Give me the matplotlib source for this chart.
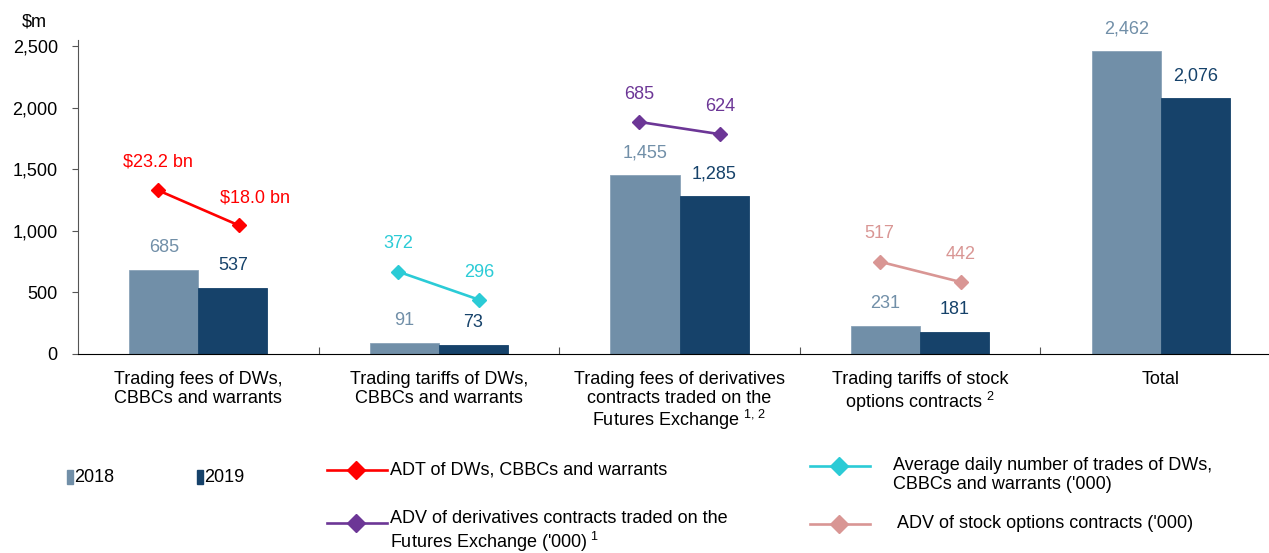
import matplotlib
matplotlib.use('Agg')
import matplotlib.pyplot as plt
from matplotlib.lines import Line2D
from matplotlib.patches import Rectangle
import numpy as np

plt.rcParams.update({
    'font.family': ['Liberation Sans', 'DejaVu Sans'],
    'font.size': 13,
    'mathtext.fontset': 'custom',
    'mathtext.rm': 'Liberation Sans',
    'mathtext.it': 'Liberation Sans',
})

# ---- data ----
categories = ['Trading fees of DWs,\nCBBCs and warrants',
              'Trading tariffs of DWs,\nCBBCs and warrants',
              'Trading fees of derivatives\ncontracts traded on the\nFutures Exchange $^{1,\\,2}$',
              'Trading tariffs of stock\noptions contracts $^{2}$',
              'Total']
fees_2018 = [685, 91, 1455, 231, 2462]
fees_2019 = [537, 73, 1285, 181, 2076]

# overlay series: group index, plotted heights ($m scale), value labels
line_names = ['ADT of DWs, CBBCs and warrants',
              "Average daily number of trades of DWs,\nCBBCs and warrants ('000)",
              "ADV of derivatives contracts traded on the\nFutures Exchange ('000)$^{\\ 1}$",
              "ADV of stock options contracts ('000)"]
line_groups = [0, 1, 2, 3]
line_heights = [[1330, 1045], [668, 440], [1885, 1785], [750, 585]]
line_labels = [['$23.2 bn', '$18.0 bn'], ['372', '296'], ['685', '624'], ['517', '442']]
line_colors = ['#FF0000', '#2BCBD6', '#6C3696', '#D99694']

c2018 = '#718FA8'
c2019 = '#16426A'

W, H = 1269, 553
fig = plt.figure(figsize=(W / 100, H / 100), dpi=100)
ax = fig.add_axes([78 / W, 199 / H, 1203 / W, 314 / H])

x = np.arange(len(categories))
bw = 0.287
ax.bar(x - bw / 2, fees_2018, bw, color=c2018, edgecolor='#8AA3B8', linewidth=0.6)
ax.bar(x + bw / 2, fees_2019, bw, color=c2019, edgecolor=c2019, linewidth=0.6)
for xi, v in zip(x, fees_2018):
    ax.annotate(f'{v:,}', (xi - bw / 2, v), xytext=(0, 16), textcoords='offset points',
                ha='center', va='center', color=c2018, fontsize=13)
for xi, v in zip(x, fees_2019):
    ax.annotate(f'{v:,}', (xi + bw / 2, v), xytext=(0, 16), textcoords='offset points',
                ha='center', va='center', color=c2019, fontsize=13)

off = 0.168
for g, hts, labs, col in zip(line_groups, line_heights, line_labels, line_colors):
    xs = [g - off, g + off]
    ax.plot(xs, hts, color=col, lw=1.9, marker='D', markersize=7.5)
    for i, (xx, hh, lb) in enumerate(zip(xs, hts, labs)):
        dx = 12 if (i == 1 and g == 0) else 0
        ax.annotate(lb, (xx, hh), xytext=(dx, 20), textcoords='offset points',
                    ha='center', va='center', color=col, fontsize=13)

ax.set_xlim(-0.5, len(categories) - 0.5)
ax.set_ylim(0, 2550)
ax.set_yticks([0, 500, 1000, 1500, 2000, 2500])
ax.set_yticklabels([f'{v:,}' for v in [0, 500, 1000, 1500, 2000, 2500]])
ax.set_xticks(np.arange(len(categories) - 1) + 0.5)
ax.set_xticklabels([])
ax.tick_params(axis='x', direction='in', length=5, color='#555555')
ax.tick_params(axis='y', direction='out', length=4.5, color='#555555', pad=10, labelsize=13)
for xi, lab in zip(x, categories):
    ax.text(xi, -140, lab, ha='center', va='top', fontsize=13, linespacing=1.1)
for s in ['top', 'right']:
    ax.spines[s].set_visible(False)
ax.spines['left'].set_color('#555555')
ax.spines['bottom'].set_color('#000000')
fig.text(22 / W, 1 - 22 / H, '$m', fontsize=13, va='center', ha='left')

# ---- legend drawn by hand ----
def fx(px):
    return px / W

def fy(py):
    return 1 - py / H

for left, col, lab in [(67, c2018, '2018'), (197, c2019, '2019')]:
    fig.add_artist(Rectangle((fx(left), fy(484)), 6 / W, 14 / H, color=col,
                             transform=fig.transFigure))
    fig.text(fx(left + 7), fy(477), lab, fontsize=13, va='center', ha='left')

leg_pos = [(327, 470, 390, 470), (810, 466, 893, 475), (327, 523, 390, 532), (810, 524, 897, 524)]
for (lx, ly, tx, ty), col, name in zip(leg_pos, line_colors, line_names):
    fig.add_artist(Line2D([fx(lx), fx(lx + 60)], [fy(ly), fy(ly)], color=col, lw=1.9,
                          transform=fig.transFigure))
    fig.add_artist(Line2D([fx(lx + 29)], [fy(ly)], color=col, marker='D', markersize=9,
                          transform=fig.transFigure))
    fig.text(fx(tx), fy(ty), name, fontsize=13, va='center', ha='left', linespacing=1.15)

fig.savefig('out.png', dpi=100)
